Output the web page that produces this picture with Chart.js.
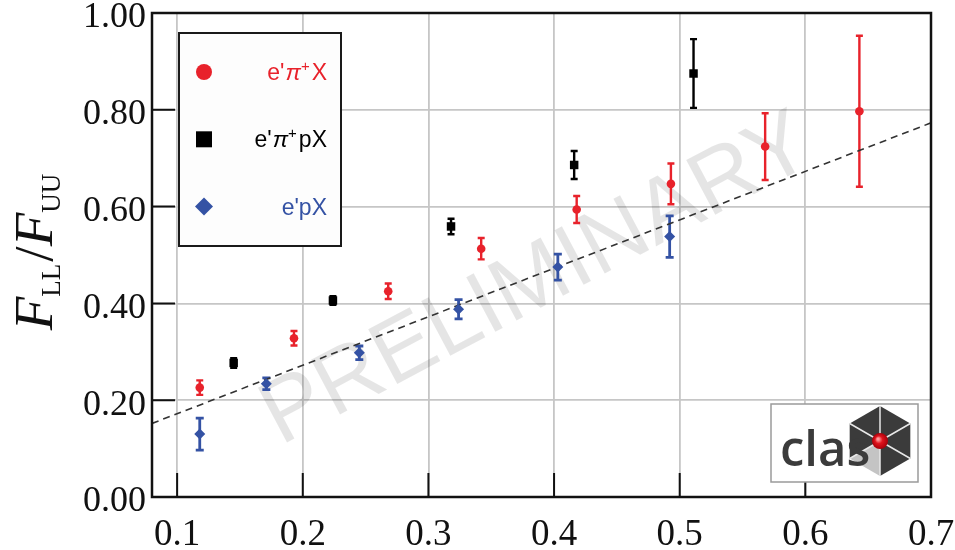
<!DOCTYPE html>
<html>
<head>
<meta charset="utf-8">
<script src="https://cdn.jsdelivr.net/npm/chart.js@4.4.1/dist/chart.umd.min.js"></script>
<style>
  html, body { margin: 0; padding: 0; background: #fff; }
  #wrap { width: 955px; height: 550px; }
</style>
</head>
<body>
<div id="wrap"><canvas id="chart" width="955" height="550"></canvas></div>
<script>
// e'pi+X
const piX = [0.118, 0.193, 0.268, 0.342, 0.418, 0.493, 0.568, 0.643];
const piY = [0.226, 0.328, 0.425, 0.513, 0.594, 0.647, 0.724, 0.797];
const piErr = [0.015, 0.015, 0.016, 0.022, 0.028, 0.042, 0.069, 0.156];

// e'pi+pX
const pipX = [0.145, 0.224, 0.318, 0.416, 0.511];
const pipY = [0.277, 0.406, 0.559, 0.686, 0.875];
const pipErr = [0.010, 0.009, 0.016, 0.029, 0.071];

// e'pX
const pX = [0.118, 0.171, 0.245, 0.324, 0.403, 0.492];
const pY = [0.130, 0.234, 0.298, 0.388, 0.475, 0.538];
const pErr = [0.033, 0.012, 0.014, 0.020, 0.027, 0.043];

// dashed guide line
const lineX = [0.08, 0.70];
const lineY = [0.152, 0.773];

const RED = "#e8222b";
const BLACK = "#000000";
const BLUE = "#3452a4";
const SERIF = "'Liberation Serif', 'DejaVu Serif', serif";
const SANS = "'Liberation Sans', Arial, sans-serif";

function points(xs, ys) {
  return xs.map((x, i) => ({x, y: ys[i]}));
}

// vertical error bars with small caps, drawn under the markers
const errorBars = {
  id: "errorBars",
  beforeDatasetsDraw(chart) {
    const {ctx, scales: {x, y}} = chart;
    chart.data.datasets.forEach((ds) => {
      if (!ds.errors) return;
      ctx.save();
      ctx.strokeStyle = ds.borderColor;
      ctx.lineWidth = ds.errWidth;
      ds.data.forEach((p, i) => {
        const px = x.getPixelForValue(p.x);
        const top = y.getPixelForValue(p.y + ds.errors[i]);
        const bot = y.getPixelForValue(p.y - ds.errors[i]);
        const cap = ds.capHalf;
        ctx.beginPath();
        ctx.moveTo(px, top);
        ctx.lineTo(px, bot);
        ctx.moveTo(px - cap, top);
        ctx.lineTo(px + cap, top);
        ctx.moveTo(px - cap, bot);
        ctx.lineTo(px + cap, bot);
        ctx.stroke();
      });
      ctx.restore();
    });
  }
};

// faint rotated stamp behind the data
const stamp = {
  id: "stamp",
  beforeDatasetsDraw(chart) {
    const {ctx} = chart;
    ctx.save();
    ctx.translate(534, 275);
    ctx.rotate(-28 * Math.PI / 180);
    ctx.font = `90px ${SANS}`;
    ctx.fillStyle = "rgba(0,0,0,0.10)";
    ctx.textAlign = "center";
    ctx.textBaseline = "alphabetic";
    ctx.fillText("PRELIMINARY", 0, 32);
    ctx.restore();
  }
};

// draws a run of text pieces: [text, font, baseline shift, gap before]
function drawRun(ctx, parts, x, y) {
  let cx = x;
  parts.forEach(([t, font, dy, gap = 0]) => {
    ctx.font = font;
    cx += gap;
    ctx.fillText(t, cx, y + dy);
    cx += ctx.measureText(t).width;
  });
  return cx;
}

function runWidth(ctx, parts) {
  let w = 0;
  parts.forEach(([t, font, dy, gap = 0]) => {
    ctx.font = font;
    w += gap + ctx.measureText(t).width;
  });
  return w;
}

function marker(ctx, style, x, y, color) {
  ctx.fillStyle = color;
  ctx.beginPath();
  if (style === "circle") {
    ctx.arc(x, y, 8, 0, Math.PI * 2);
  } else if (style === "rect") {
    ctx.rect(x - 8, y - 8, 16, 16);
  } else {
    ctx.moveTo(x - 9, y);
    ctx.lineTo(x, y - 9);
    ctx.lineTo(x + 9, y);
    ctx.lineTo(x, y + 9);
    ctx.closePath();
  }
  ctx.fill();
}

const LEG = `23px ${SANS}`;
const LEG_PI = `italic 23px ${SANS}`;
const LEG_SUP = `15px ${SANS}`;
const legendItems = [
  {style: "circle", color: RED, text: [["e'", LEG, 0], ["\u03C0", LEG_PI, 0, 1], ["+", LEG_SUP, -9], ["X", LEG, 0, 2]]},
  {style: "rect", color: BLACK, text: [["e'", LEG, 0], ["\u03C0", LEG_PI, 0, 1], ["+", LEG_SUP, -9], ["pX", LEG, 0, 2]]},
  {style: "rectRot", color: BLUE, text: [["e'pX", LEG, 0]]}
];

const decor = {
  id: "decor",
  afterDraw(chart) {
    const {ctx, chartArea: a, scales: {x, y}} = chart;
    ctx.save();

    // inward tick marks on left and bottom
    ctx.strokeStyle = "#111";
    ctx.lineWidth = 2;
    ctx.beginPath();
    x.ticks.forEach((t) => {
      const px = x.getPixelForValue(t.value);
      if (px <= a.left + 1 || px >= a.right - 1) return;
      ctx.moveTo(px, a.bottom);
      ctx.lineTo(px, a.bottom - 24);
    });
    y.ticks.forEach((t) => {
      const py = y.getPixelForValue(t.value);
      if (py <= a.top + 1 || py >= a.bottom - 1) return;
      ctx.moveTo(a.left, py);
      ctx.lineTo(a.left + 23, py);
    });
    ctx.stroke();

    // frame
    ctx.lineWidth = 2.5;
    ctx.strokeStyle = "#111";
    ctx.strokeRect(a.left, a.top, a.right - a.left, a.bottom - a.top);

    // legend panel
    const lx = a.left + 27, ly = a.top + 20, lw = 162, lh = 213;
    ctx.fillStyle = "#fdfdfd";
    ctx.fillRect(lx, ly, lw, lh);
    ctx.lineWidth = 2;
    ctx.strokeStyle = "#1a1a1a";
    ctx.strokeRect(lx, ly, lw, lh);
    legendItems.forEach((item, i) => {
      const cy = ly + 39 + i * 67.3;
      marker(ctx, item.style, lx + 25, cy, item.color);
      ctx.fillStyle = item.color;
      ctx.textBaseline = "alphabetic";
      ctx.textAlign = "left";
      const w = runWidth(ctx, item.text);
      drawRun(ctx, item.text, lx + 148 - w, cy + 8);
    });

    // y axis title  F_LL / F_UU
    ctx.save();
    ctx.translate(52, 252);
    ctx.rotate(-Math.PI / 2);
    ctx.fillStyle = "#111";
    ctx.textAlign = "left";
    ctx.textBaseline = "alphabetic";
    const big = `italic 55px ${SERIF}`;
    const sub = `27px ${SERIF}`;
    const title = [
      ["F", big, 0], ["LL", sub, 8], ["/", `55px ${SERIF}`, 0, 2],
      ["F", big, 0], ["UU", sub, 8]
    ];
    const tw = runWidth(ctx, title);
    drawRun(ctx, title, -tw / 2, 0);
    ctx.restore();

    // collaboration badge
    const bx = a.right - 160, by = a.bottom - 93, bw = 147, bh = 78;
    ctx.fillStyle = "#ffffff";
    ctx.fillRect(bx, by, bw, bh);
    ctx.lineWidth = 1.5;
    ctx.strokeStyle = "#9a9a9a";
    ctx.strokeRect(bx, by, bw, bh);

    const hx = bx + 109, hy = by + 37, r = 35;
    const verts = [];
    for (let k = 0; k < 6; k++) {
      const ang = (-90 + 60 * k) * Math.PI / 180;
      verts.push([hx + r * Math.cos(ang), hy + r * Math.sin(ang)]);
    }
    for (let k = 0; k < 6; k++) {
      const [x1, y1] = verts[k];
      const [x2, y2] = verts[(k + 1) % 6];
      ctx.beginPath();
      ctx.moveTo(hx, hy);
      ctx.lineTo(x1, y1);
      ctx.lineTo(x2, y2);
      ctx.closePath();
      ctx.fillStyle = k === 3 ? "#c4c4c4" : "#3b3b3b";
      ctx.fill();
    }
    ctx.strokeStyle = "#e8e8e8";
    ctx.lineWidth = 1.5;
    ctx.beginPath();
    verts.forEach(([vx, vy]) => { ctx.moveTo(hx, hy); ctx.lineTo(vx, vy); });
    ctx.stroke();

    ctx.fillStyle = "#3b3b3b";
    ctx.font = `600 49px 'Open Sans', ${SANS}`;
    ctx.textAlign = "left";
    ctx.textBaseline = "alphabetic";
    ctx.fillText("clas", bx + 9, by + 62);

    const g = ctx.createRadialGradient(hx - 2, hy - 2, 1, hx, hy, 8);
    g.addColorStop(0, "#ff9a9a");
    g.addColorStop(0.4, "#e0141e");
    g.addColorStop(1, "#a8000a");
    ctx.fillStyle = g;
    ctx.beginPath();
    ctx.arc(hx, hy, 8, 0, Math.PI * 2);
    ctx.fill();

    ctx.restore();
  }
};

new Chart(document.getElementById("chart"), {
  type: "scatter",
  data: {
    datasets: [
      {
        label: "e'\u03C0+X",
        data: points(piX, piY),
        errors: piErr,
        errWidth: 2.4,
        capHalf: 3.5,
        borderColor: RED,
        backgroundColor: RED,
        pointStyle: "circle",
        pointRadius: 4.3,
        pointBorderWidth: 0
      },
      {
        label: "e'\u03C0+pX",
        data: points(pipX, pipY),
        errors: pipErr,
        errWidth: 2.4,
        capHalf: 3.5,
        borderColor: BLACK,
        backgroundColor: BLACK,
        pointStyle: "rect",
        pointRadius: 6,
        pointBorderWidth: 0
      },
      {
        label: "e'pX",
        data: points(pX, pY),
        errors: pErr,
        errWidth: 2.8,
        capHalf: 4,
        borderColor: BLUE,
        backgroundColor: BLUE,
        pointStyle: "rectRot",
        pointRadius: 5.5,
        pointBorderWidth: 0
      },
      {
        label: "fit",
        data: points(lineX, lineY),
        showLine: true,
        borderColor: "#333333",
        borderWidth: 1.6,
        borderDash: [7, 5],
        pointRadius: 0,
        fill: false
      }
    ]
  },
  options: {
    responsive: false,
    animation: false,
    devicePixelRatio: 1,
    layout: {padding: {top: 13, right: 24, left: 0, bottom: 0}},
    plugins: {legend: {display: false}, tooltip: {enabled: false}},
    scales: {
      x: {
        type: "linear",
        min: 0.08,
        max: 0.7,
        border: {display: false},
        grid: {color: "#c6c6c6", lineWidth: 1.8, drawTicks: false},
        ticks: {
          stepSize: 0.1,
          includeBounds: false,
          padding: 16,
          color: "#111",
          font: {family: SERIF, size: 37},
          callback: (v) => v.toFixed(1)
        },
        afterFit(scale) {
          scale.height = 53;
          scale.paddingLeft = 0;
          scale.paddingRight = 0;
        }
      },
      y: {
        type: "linear",
        min: 0,
        max: 1,
        border: {display: false},
        grid: {color: "#c6c6c6", lineWidth: 1.8, drawTicks: false},
        ticks: {
          stepSize: 0.2,
          padding: 6,
          labelOffset: 5,
          color: "#111",
          font: {family: SERIF, size: 36},
          callback: (v) => v.toFixed(2)
        },
        afterFit(scale) {
          scale.width = 152;
          scale.paddingTop = 0;
          scale.paddingBottom = 0;
        }
      }
    }
  },
  plugins: [stamp, errorBars, decor]
});
</script>
</body>
</html>
